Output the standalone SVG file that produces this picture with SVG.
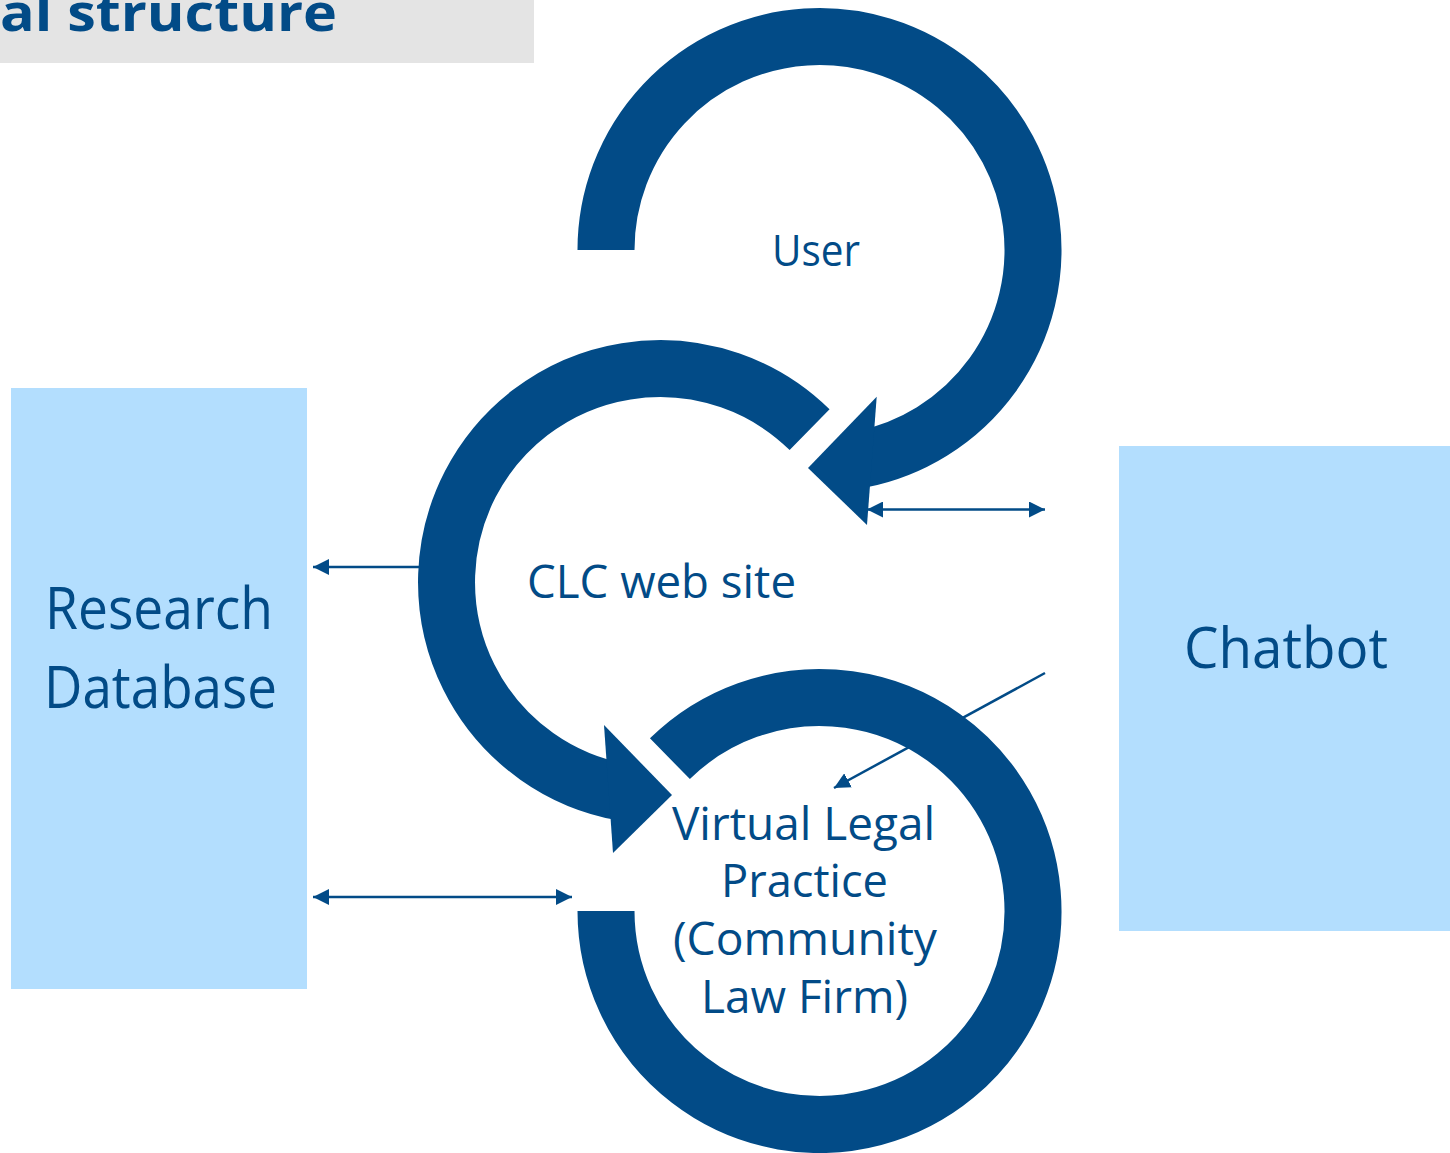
<svg xmlns="http://www.w3.org/2000/svg" width="1450" height="1153" viewBox="0 0 1450 1153">
<defs>
<style>
.box{fill:#B3DEFE;}
.ring{fill:none;stroke:#024B87;stroke-width:57;stroke-linecap:butt;}
.head{fill:#024B87;}
.lbl{font-family:"Open Sans","Noto Sans","Liberation Sans",sans-serif;fill:#024B87;}
.conn{stroke:#024B87;stroke-width:2.5;fill:none;}
</style>
<marker id="arr" markerUnits="userSpaceOnUse" markerWidth="16" markerHeight="16" refX="16" refY="8" orient="auto-start-reverse" viewBox="0 0 16 16">
<path d="M0,0 L16,8 L0,16 z" fill="#024B87"/>
</marker>
</defs>
<rect width="1450" height="1153" fill="#FFFFFF"/>
<g id="title">
<rect x="0" y="0" width="534" height="63" fill="#E4E4E4"/>
<text class="lbl" x="0" y="31" font-size="52" font-weight="bold" textLength="337" lengthAdjust="spacingAndGlyphs">al structure</text>
</g>
<g id="node-research">
<rect class="box" x="11" y="388" width="296" height="601"/>
<text class="lbl" x="45" y="629" font-size="59" textLength="228" lengthAdjust="spacingAndGlyphs">Research</text>
<text class="lbl" x="44" y="708" font-size="59" textLength="233" lengthAdjust="spacingAndGlyphs">Database</text>
</g>
<g id="node-chatbot">
<rect class="box" x="1119" y="446" width="331" height="485"/>
<text class="lbl" x="1184" y="668" font-size="56" textLength="204" lengthAdjust="spacingAndGlyphs">Chatbot</text>
</g>
<g id="connectors">
<path class="conn" d="M867,509.5 L1045,509.5" marker-start="url(#arr)" marker-end="url(#arr)"/>
<path class="conn" d="M420,567 L313,567" marker-end="url(#arr)"/>
<path class="conn" d="M313,897 L572,897" marker-start="url(#arr)" marker-end="url(#arr)"/>
<path class="conn" d="M1045,673 L834,788" marker-end="url(#arr)"/>
</g>
<g id="node-user">
<path class="ring" d="M606,250 A213.5,213.5 0 1 1 860.2,459.6"/>
<polygon class="head" points="876.7,396.7 808,468 867,525"/>
<text class="lbl" x="772" y="266" font-size="44" textLength="88" lengthAdjust="spacingAndGlyphs">User</text>
</g>
<g id="node-clc">
<path class="ring" d="M809.6,429.7 A213.5,213.5 0 1 0 622.9,792.3"/>
<polygon class="head" points="604,725 672,795 613,853"/>
<text class="lbl" x="527" y="597.5" font-size="45" textLength="269" lengthAdjust="spacingAndGlyphs">CLC web site</text>
</g>
<g id="node-vlp">
<path class="ring" d="M669.9,758.7 A213.5,213.5 0 1 1 606,911"/>
<text class="lbl" x="672" y="840" font-size="46" textLength="263" lengthAdjust="spacingAndGlyphs">Virtual Legal</text>
<text class="lbl" x="721" y="897" font-size="46" textLength="167" lengthAdjust="spacingAndGlyphs">Practice</text>
<text class="lbl" x="673" y="955" font-size="46" textLength="264" lengthAdjust="spacingAndGlyphs">(Community</text>
<text class="lbl" x="701" y="1013" font-size="46" textLength="207" lengthAdjust="spacingAndGlyphs">Law Firm)</text>
</g>
</svg>
